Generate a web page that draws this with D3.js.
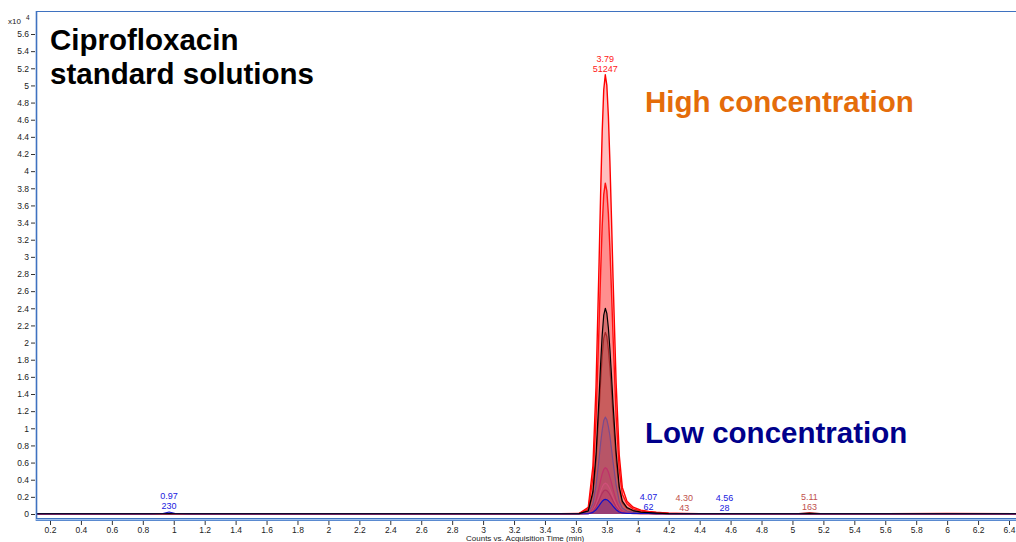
<!DOCTYPE html>
<html>
<head>
<meta charset="utf-8">
<script src="https://cdn.jsdelivr.net/npm/d3@7"></script>
<style>
  html, body { margin: 0; padding: 0; background: #fff; }
  svg { display: block; }
</style>
</head>
<body>
<svg id="chart" width="1016" height="542"></svg>
<script>
// ---------------- DATA ----------------
const times = [0.11, 0.85, 0.93, 0.97, 1.01, 1.10, 3.50, 3.62, 3.68, 3.71, 3.73, 3.75, 3.76, 3.77, 3.78, 3.79, 3.80, 3.81, 3.82, 3.83, 3.84, 3.86, 3.88, 3.90, 3.93, 3.97, 4.02, 4.07, 4.12, 4.20, 4.30, 4.40, 4.50, 4.56, 4.62, 5.04, 5.11, 5.18, 5.60, 6.00, 6.45];

// intensities in x10^4 counts
const std1 = [0.003, 0.003, 0.003, 0.003, 0.003, 0.003, 0.003, 0.006, 0.077, 0.56, 1.48, 2.95, 3.75, 4.46, 4.95, 5.1247, 5.00, 4.64, 4.10, 3.45, 2.76, 1.53, 0.69, 0.31, 0.15, 0.08, 0.045, 0.03, 0.02, 0.01, 0.005, 0.003, 0.003, 0.003, 0.003, 0.003, 0.003, 0.003, 0.003, 0.006, 0.003];
const std2 = [0.003, 0.003, 0.003, 0.003, 0.003, 0.003, 0.003, 0.005, 0.058, 0.42, 1.11, 2.22, 2.83, 3.36, 3.73, 3.86, 3.77, 3.50, 3.09, 2.60, 2.08, 1.15, 0.52, 0.23, 0.12, 0.06, 0.035, 0.023, 0.015, 0.008, 0.004, 0.003, 0.003, 0.003, 0.003, 0.003, 0.003, 0.003, 0.003, 0.003, 0.003];
const std3 = [0.003, 0.003, 0.003, 0.004, 0.003, 0.003, 0.003, 0.005, 0.036, 0.26, 0.69, 1.38, 1.76, 2.09, 2.32, 2.40, 2.34, 2.17, 1.92, 1.62, 1.29, 0.72, 0.32, 0.15, 0.075, 0.04, 0.022, 0.015, 0.01, 0.005, 0.003, 0.003, 0.003, 0.003, 0.003, 0.003, 0.004, 0.003, 0.003, 0.003, 0.003];
const std4 = [0.003, 0.003, 0.003, 0.003, 0.003, 0.003, 0.003, 0.004, 0.032, 0.23, 0.61, 1.22, 1.55, 1.85, 2.05, 2.12, 2.07, 1.92, 1.70, 1.43, 1.14, 0.63, 0.29, 0.13, 0.065, 0.035, 0.02, 0.013, 0.009, 0.005, 0.0043, 0.003, 0.003, 0.003, 0.003, 0.004, 0.0163, 0.004, 0.003, 0.003, 0.003];
const std5 = [0.002, 0.002, 0.002, 0.002, 0.002, 0.002, 0.002, 0.003, 0.017, 0.12, 0.33, 0.65, 0.83, 0.98, 1.09, 1.13, 1.10, 1.02, 0.91, 0.76, 0.61, 0.34, 0.15, 0.07, 0.035, 0.018, 0.01, 0.007, 0.005, 0.003, 0.002, 0.002, 0.002, 0.002, 0.002, 0.002, 0.002, 0.002, 0.002, 0.002, 0.002];
const std6 = [0.002, 0.002, 0.006, 0.003, 0.002, 0.002, 0.002, 0.003, 0.008, 0.059, 0.156, 0.31, 0.395, 0.47, 0.52, 0.54, 0.527, 0.49, 0.43, 0.364, 0.29, 0.16, 0.073, 0.032, 0.016, 0.009, 0.005, 0.004, 0.003, 0.002, 0.002, 0.002, 0.002, 0.002, 0.002, 0.002, 0.002, 0.002, 0.002, 0.002, 0.002];
const std7 = [0.002, 0.002, 0.002, 0.002, 0.002, 0.002, 0.002, 0.002, 0.005, 0.039, 0.104, 0.207, 0.264, 0.314, 0.348, 0.36, 0.351, 0.326, 0.288, 0.243, 0.194, 0.107, 0.049, 0.022, 0.011, 0.006, 0.004, 0.003, 0.002, 0.002, 0.002, 0.002, 0.002, 0.002, 0.002, 0.002, 0.002, 0.002, 0.002, 0.002, 0.002];
const std8 = [0.002, 0.002, 0.002, 0.002, 0.002, 0.002, 0.002, 0.002, 0.004, 0.031, 0.081, 0.161, 0.205, 0.244, 0.27, 0.28, 0.273, 0.254, 0.224, 0.189, 0.151, 0.083, 0.038, 0.017, 0.009, 0.005, 0.003, 0.003, 0.002, 0.002, 0.002, 0.002, 0.002, 0.002, 0.002, 0.002, 0.002, 0.002, 0.002, 0.002, 0.002];
const std9 = [0.003, 0.003, 0.006, 0.023, 0.006, 0.003, 0.003, 0.003, 0.003, 0.019, 0.049, 0.098, 0.124, 0.148, 0.164, 0.17, 0.166, 0.154, 0.136, 0.115, 0.092, 0.05, 0.023, 0.012, 0.008, 0.007, 0.006, 0.0062, 0.004, 0.003, 0.003, 0.003, 0.003, 0.0028, 0.003, 0.003, 0.003, 0.003, 0.003, 0.003, 0.003];

const seriesValues = [std1, std2, std3, std4, std5, std6, std7, std8, std9];

const xTicks = [0.2, 0.4, 0.6, 0.8, 1, 1.2, 1.4, 1.6, 1.8, 2, 2.2, 2.4, 2.6, 2.8, 3, 3.2, 3.4, 3.6, 3.8, 4, 4.2, 4.4, 4.6, 4.8, 5, 5.2, 5.4, 5.6, 5.8, 6, 6.2, 6.4];
const yTicks = [0, 0.2, 0.4, 0.6, 0.8, 1, 1.2, 1.4, 1.6, 1.8, 2, 2.2, 2.4, 2.6, 2.8, 3, 3.2, 3.4, 3.6, 3.8, 4, 4.2, 4.4, 4.6, 4.8, 5, 5.2, 5.4, 5.6];

// peak annotations: time, counts label, series index
const peakTimes  = [3.79, 0.97, 4.07, 4.30, 4.56, 5.11];
const peakCounts = [51247, 230, 62, 43, 28, 163];
const peakSeries = [0, 8, 8, 3, 8, 3];

// ---------------- STYLE ----------------
const lineColors = ["#ff0000", "#ff1010", "#000000", "#a52a2a", "#7a4a8c", "#c0306a", "#d0507a", "#b03060", "#1010c8"];
const fillColors = ["#ff0000", "#ff0000", "#400000", "#a02020", "#7a3a8c", "#c0306a", "#d0507a", "#b03060", "#2020a0"];
const labelColors = ["#ff2020", "#ff2020", "#000000", "#c0504d", "#7a4a8c", "#c0306a", "#d0507a", "#b03060", "#2020e0"];
const lineOrder = [0, 1, 3, 4, 5, 6, 7, 8, 2];
const FONT = "'Liberation Sans', Arial, Helvetica, sans-serif";

// ---------------- CHART ----------------
const svg = d3.select("#chart");
const x = d3.scaleLinear().domain([0.2, 6.4]).range([50, 1009]);
const y = d3.scaleLinear().domain([0, 5.6]).range([514, 34]);

const plotLeft = 36, plotTop = 11, plotRight = 1016, plotBottom = 519;

svg.append("defs").append("clipPath").attr("id", "plotclip")
  .append("rect").attr("x", plotLeft + 1).attr("y", plotTop + 1)
  .attr("width", plotRight - plotLeft).attr("height", plotBottom - plotTop - 2);

const g = svg.append("g").attr("clip-path", "url(#plotclip)");

const area = d3.area().x((d, i) => x(times[i])).y0(y(0)).y1(d => y(d)).curve(d3.curveLinear);
const line = d3.line().x((d, i) => x(times[i])).y(d => y(d)).curve(d3.curveLinear);

seriesValues.forEach((vals, k) => {
  g.append("path").attr("d", area(vals))
    .attr("fill", fillColors[k]).attr("fill-opacity", k < 2 ? 0.25 : 0.22).attr("stroke", "none");
  if (k < 2) {
    g.append("path").attr("d", line(vals))
      .attr("fill", "none").attr("stroke", lineColors[k]).attr("stroke-width", 1.4)
      .attr("stroke-linejoin", "round");
  }
});
lineOrder.filter(k => k >= 2).forEach(k => {
  g.append("path").attr("d", line(seriesValues[k]))
    .attr("fill", "none").attr("stroke", lineColors[k]).attr("stroke-width", 1.2)
    .attr("stroke-linejoin", "round");
});

// frame
const frameColor = "#3f72c0";
svg.append("line").attr("x1", plotLeft).attr("x2", plotRight).attr("y1", plotTop + 0.5).attr("y2", plotTop + 0.5)
  .attr("stroke", frameColor).attr("stroke-width", 1);
svg.append("line").attr("x1", plotLeft + 0.5).attr("x2", plotLeft + 0.5).attr("y1", plotTop).attr("y2", 521)
  .attr("stroke", frameColor).attr("stroke-width", 1.6);
svg.append("line").attr("x1", plotLeft).attr("x2", plotRight).attr("y1", 518.5).attr("y2", 518.5)
  .attr("stroke", frameColor).attr("stroke-width", 1);
svg.append("line").attr("x1", plotLeft).attr("x2", plotRight).attr("y1", 519.5).attr("y2", 519.5)
  .attr("stroke", "#9cc0ee").attr("stroke-width", 1);
svg.append("line").attr("x1", plotLeft).attr("x2", plotRight).attr("y1", 520.5).attr("y2", 520.5)
  .attr("stroke", "#5a8ad0").attr("stroke-width", 1);

// y axis
const yAxis = d3.axisLeft(y).tickValues(yTicks).tickSize(4).tickPadding(2).tickFormat(d3.format("~g"));
const yg = svg.append("g").attr("transform", `translate(${plotLeft - 1},0)`).call(yAxis);
yg.select(".domain").remove();
yg.selectAll(".tick line").attr("stroke", "#333");
yg.selectAll(".tick text").attr("font-family", FONT).attr("font-size", 8.5).attr("fill", "#222");

// x axis
const xAxis = d3.axisBottom(x).tickValues(xTicks).tickSize(4).tickPadding(2).tickFormat(d3.format("~g"));
const xg = svg.append("g").attr("transform", `translate(0,521)`).call(xAxis);
xg.select(".domain").remove();
xg.selectAll(".tick line").attr("stroke", "#333");
xg.selectAll(".tick text").attr("font-family", FONT).attr("font-size", 8.5).attr("fill", "#222");

svg.append("text").attr("x", 466).attr("y", 541).attr("font-family", FONT).attr("font-size", 8)
  .attr("fill", "#222").text("Counts vs. Acquisition Time (min)");

// y multiplier
svg.append("text").attr("x", 8).attr("y", 24).attr("font-family", FONT).attr("font-size", 8)
  .attr("fill", "#222").text("x10");
svg.append("text").attr("x", 26).attr("y", 20).attr("font-family", FONT).attr("font-size", 6.5)
  .attr("fill", "#222").text("4");

// peak labels
peakTimes.forEach((t, i) => {
  const k = peakSeries[i];
  const vals = seriesValues[k];
  const idx = times.indexOf(t);
  const top = y(vals[idx]);
  const col = labelColors[k];
  svg.append("text").attr("x", x(t)).attr("y", top - 13).attr("text-anchor", "middle")
    .attr("font-family", FONT).attr("font-size", 9).attr("fill", col).text(d3.format(".2f")(t));
  svg.append("text").attr("x", x(t)).attr("y", top - 3).attr("text-anchor", "middle")
    .attr("font-family", FONT).attr("font-size", 9).attr("fill", col).text(peakCounts[i]);
});

// annotations
svg.append("text").attr("x", 50).attr("y", 50).attr("font-family", FONT).attr("font-weight", "bold")
  .attr("font-size", 29.5).attr("fill", "#000").text("Ciprofloxacin");
svg.append("text").attr("x", 50).attr("y", 84).attr("font-family", FONT).attr("font-weight", "bold")
  .attr("font-size", 29.5).attr("fill", "#000").text("standard solutions");
svg.append("text").attr("x", 645).attr("y", 112).attr("font-family", FONT).attr("font-weight", "bold")
  .attr("font-size", 29.5).attr("fill", "#e46c0a").text("High concentration");
svg.append("text").attr("x", 645).attr("y", 443).attr("font-family", FONT).attr("font-weight", "bold")
  .attr("font-size", 29.5).attr("fill", "#00008b").text("Low concentration");
</script>
</body>
</html>
